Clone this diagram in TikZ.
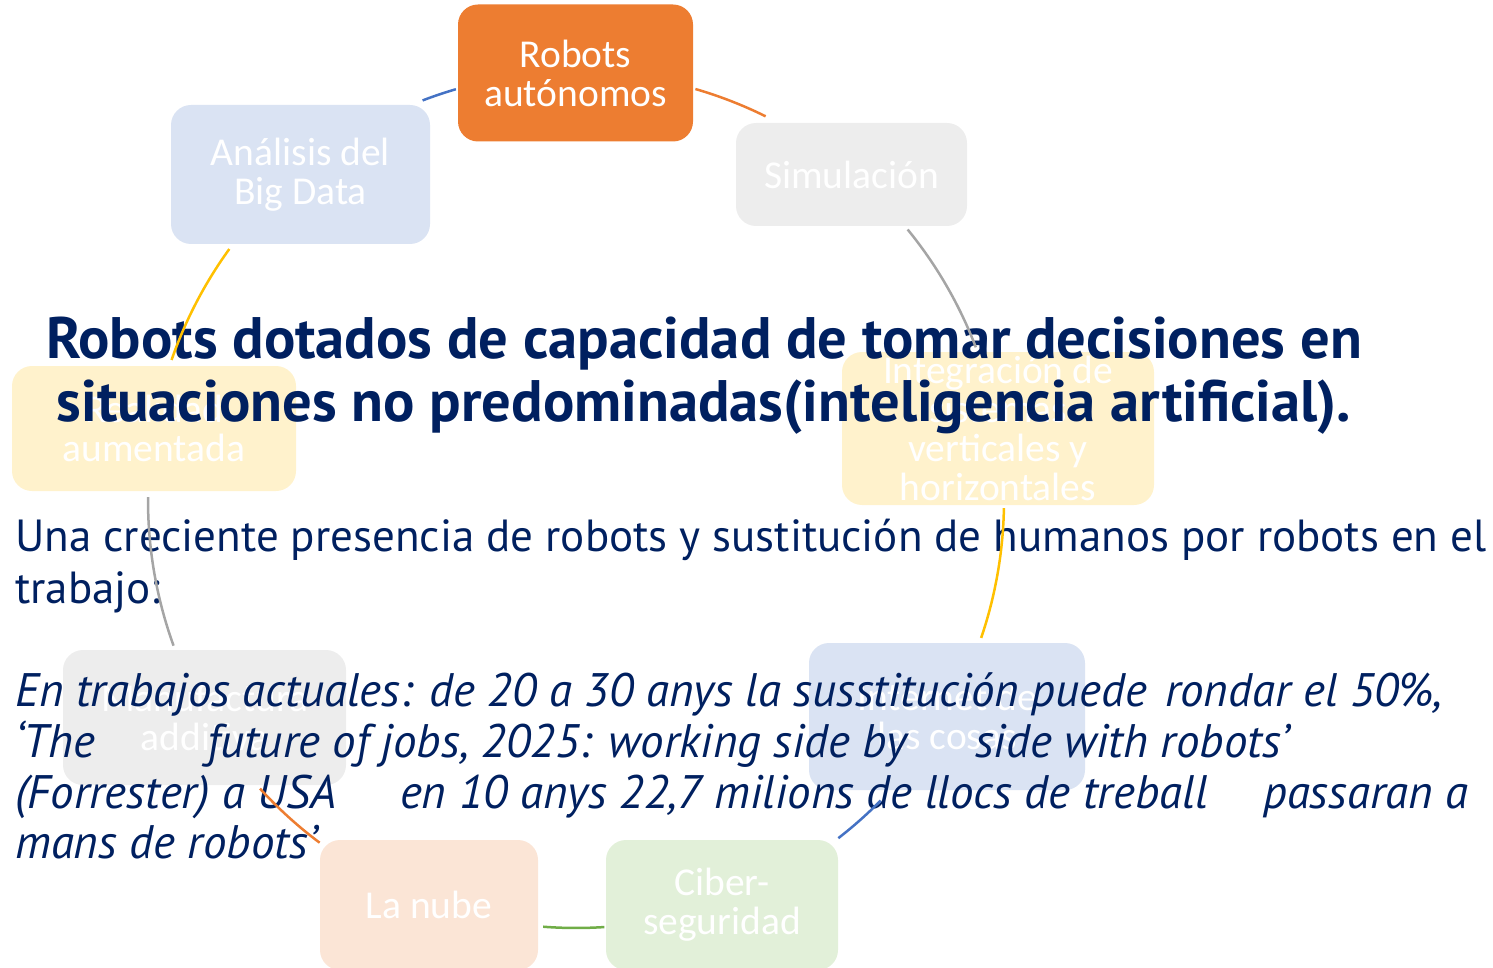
\documentclass[tikz,border=0pt]{standalone}
\usepackage{fontspec}
\setmainfont{PT Sans}
\newfontfamily\boxfont{Carlito}
\definecolor{navy}{HTML}{002060}
\definecolor{cOrange}{HTML}{ED7D31}
\definecolor{cGray}{HTML}{A5A5A5}
\definecolor{cYellow}{HTML}{FFC000}
\definecolor{cBlue}{HTML}{4472C4}
\definecolor{cGreen}{HTML}{70AD47}
\definecolor{fBlue}{HTML}{DAE3F3}
\definecolor{fGray}{HTML}{EDEDED}
\definecolor{fYellow}{HTML}{FFF2CC}
\definecolor{fGreen}{HTML}{E2F0D9}
\definecolor{fPeach}{HTML}{FBE5D6}
\begin{document}
\begin{tikzpicture}[x=1pt,y=-1pt]
\useasboundingbox (0,0) rectangle (1493,968);
\tikzset{
  cbox/.style={rounded corners=20pt, inner sep=0pt, align=center, text=white,
    font=\boxfont\fontsize{39.5}{39}\selectfont},
  arcline/.style={line width=2.5pt},
  ttl/.style={anchor=base, inner sep=0pt, text=navy, font=\bfseries\fontsize{58.5}{62}\selectfont},
  body/.style={anchor=base west, inner sep=0pt, text=navy, font=\fontsize{45}{52}\selectfont},
  ibody/.style={anchor=base west, inner sep=0pt, text=navy, font=\itshape\fontsize{47}{50}\selectfont}
}
% cycle boxes
\node[cbox, fill=cOrange, minimum width=235pt, minimum height=137pt] (robots) at (575.5,73) {Robots\\autónomos};
\node[cbox, fill=fGray, minimum width=231pt, minimum height=103pt] (sim) at (851.5,174.5) {Simulación};
\node[cbox, fill=fYellow, minimum width=312pt, minimum height=153pt] (integ) at (998,428.5) {Integración de\\sistemas\\verticales y\\horizontales};
\node[cbox, fill=fBlue, minimum width=276pt, minimum height=147pt] (iot) at (947,716.5) {Internet de\\las cosas};
\node[cbox, fill=fGreen, minimum width=232pt, minimum height=130pt] (ciber) at (722,905) {Ciber-\\seguridad};
\node[cbox, fill=fPeach, minimum width=218pt, minimum height=130pt] (nube) at (429,905) {La nube};
\node[cbox, fill=fGray, minimum width=283pt, minimum height=135pt] (manuf) at (204.5,717.5) {Manufactura\\additiva};
\node[cbox, fill=fYellow, minimum width=284pt, minimum height=125pt] (real) at (154,428.5) {Realidad\\aumentada};
\node[cbox, fill=fBlue, minimum width=259pt, minimum height=139pt] (bigdata) at (300.5,174.5) {Análisis del\\Big Data};
% text
\node[ttl] (t1) at (704,358) {Robots dotados de capacidad de tomar decisiones en};
\node[ttl] (t2) at (704,421) {situaciones no predominadas(inteligencia artificial).};
\node[body] (b1) at (15,551) {Una creciente presencia de robots y sustitución de humanos por robots en el};
\node[body] (b2) at (15,603) {trabajo:};
\node[ibody] (i1a) at (15,706) {En trabajos actuales: de 20 a 30 anys la susstitución puede};
\node[ibody] (i1b) at (1165,706) {rondar el 50\%,};
\node[ibody] (i2a) at (15,757) {‘The};
\node[ibody] (i2b) at (207,757) {future of jobs, 2025: working side by};
\node[ibody] (i2c) at (975,757) {side with robots’};
\node[ibody] (i3a) at (15,808) {(Forrester) a USA};
\node[ibody] (i3b) at (400,808) {en 10 anys 22,7 milions de llocs de treball};
\node[ibody] (i3c) at (1263,808) {passaran a};
\node[ibody] (i4) at (15,858) {mans de robots’};
% connectors: arcs of the cycle
\coordinate (ctr) at (576,500);
\draw[arcline, cOrange] (ctr) ++(-73.8:428) arc[start angle=-73.8, end angle=-63.7, radius=428];
\draw[arcline, cGray]   (ctr) ++(-39.2:428) arc[start angle=-39.2, end angle=-20.9, radius=428];
\draw[arcline, cYellow] (ctr) ++(1.1:428) arc[start angle=1.1, end angle=18.8, radius=428];
\draw[arcline, cBlue]   (ctr) ++(44.6:428) arc[start angle=44.6, end angle=52.2, radius=428];
\draw[arcline, cGreen]  (ctr) ++(86.2:428) arc[start angle=86.2, end angle=94.4, radius=428];
\draw[arcline, cOrange] (ctr) ++(126.8:428) arc[start angle=126.8, end angle=137.6, radius=428];
\draw[arcline, cGray]   (ctr) ++(160.1:428) arc[start angle=160.1, end angle=180.4, radius=428];
\draw[arcline, cYellow] (ctr) ++(199.1:428) arc[start angle=199.1, end angle=215.9, radius=428];
\draw[arcline, cBlue]   (ctr) ++(249:428) arc[start angle=249, end angle=253.7, radius=428];
\end{tikzpicture}
\end{document}
